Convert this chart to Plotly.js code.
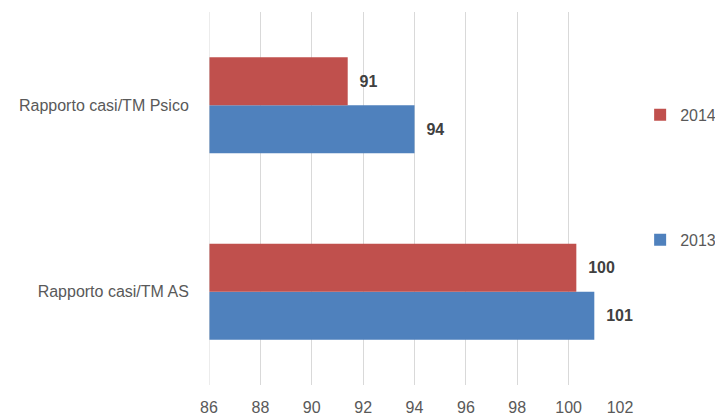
<!DOCTYPE html>
<html>
<head>
<meta charset="utf-8">
<script src="https://cdn.plot.ly/plotly-3.0.1.min.js"></script>
<style>
  html, body { margin: 0; padding: 0; background: #fff; }
  #chart { width: 715px; height: 416px; }
</style>
</head>
<body>
<div id="chart"></div>
<script>
// Categories (bottom to top) and yearly ratios
var categories = ["Rapporto casi/TM AS", "Rapporto casi/TM Psico"];
var values2013 = [101.0, 94.0];
var values2014 = [100.3, 91.4];
var xTicks = [86, 88, 90, 92, 94, 96, 98, 100, 102];

var gray = "#595959";
var labelFont = { family: "Liberation Sans, Arial, sans-serif", size: 16, color: "#404040", weight: "bold" };
var pad = "\u00a0\u00a0";

var trace2013 = {
  type: "bar", orientation: "h", name: "2013",
  y: categories, x: values2013,
  marker: { color: "#4F81BD" },
  texttemplate: pad + "%{x:.0f}", textposition: "outside",
  textfont: labelFont, cliponaxis: false,
  legend: "legend2", hoverinfo: "skip"
};
var trace2014 = {
  type: "bar", orientation: "h", name: "2014",
  y: categories, x: values2014,
  marker: { color: "#C0504D" },
  texttemplate: pad + "%{x:.0f}", textposition: "outside",
  textfont: labelFont, cliponaxis: false,
  legend: "legend", hoverinfo: "skip"
};

var layout = {
  width: 715, height: 416,
  margin: { l: 209, r: 95, t: 12, b: 31, autoexpand: false },
  paper_bgcolor: "#ffffff", plot_bgcolor: "#ffffff",
  font: { family: "Liberation Sans, Arial, sans-serif", size: 16, color: gray },
  barmode: "group", bargap: 0.485, bargroupgap: 0,
  showlegend: true,
  xaxis: {
    range: [86, 102], tickvals: xTicks, ticktext: xTicks.map(String),
    showgrid: true, gridcolor: "#d9d9d9", gridwidth: 1,
    zeroline: false, showline: false, automargin: false,
    ticks: "outside", ticklen: 8, tickcolor: "rgba(0,0,0,0)",
    tickfont: { size: 16, color: gray }
  },
  yaxis: {
    type: "category", showgrid: false, zeroline: false, showline: false, automargin: false,
    ticks: "outside", ticklen: 16, tickcolor: "rgba(0,0,0,0)",
    tickfont: { size: 16, color: gray }
  },
  legend: {
    x: 1.049, y: 0.724, xanchor: "left", yanchor: "middle",
    bgcolor: "rgba(0,0,0,0)", font: { size: 16, color: gray }
  },
  legend2: {
    x: 1.049, y: 0.389, xanchor: "left", yanchor: "middle",
    bgcolor: "rgba(0,0,0,0)", font: { size: 16, color: gray }
  },
  shapes: [{
    type: "line", xref: "x", yref: "paper", x0: 86, x1: 86, y0: 0, y1: 1,
    line: { color: "#d9d9d9", width: 1 }
  }]
};

Plotly.newPlot("chart", [trace2013, trace2014], layout, { staticPlot: true, displayModeBar: false });
</script>
</body>
</html>
